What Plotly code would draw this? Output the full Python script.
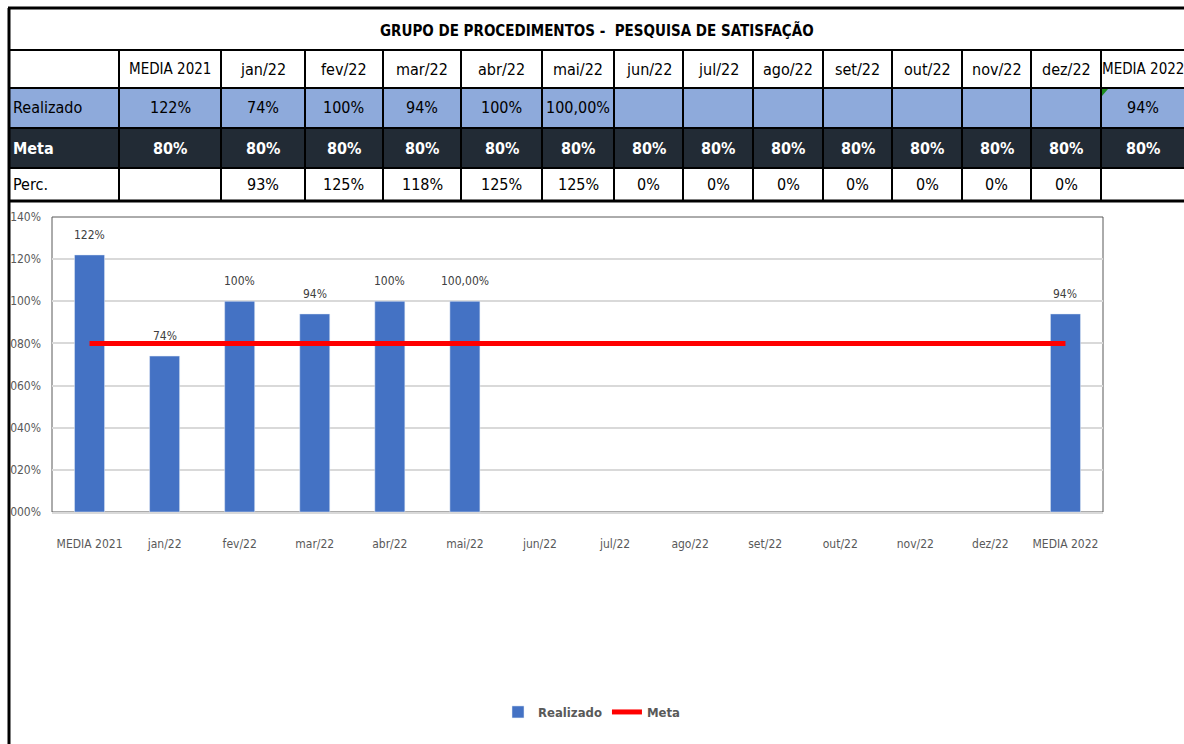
import plotly.graph_objects as go

W, H = 1184, 744
def px(x): return x / W
def py(y): return 1 - y / H

title = "GRUPO DE PROCEDIMENTOS -  PESQUISA DE SATISFAÇÃO"
categories = ["MEDIA 2021", "jan/22", "fev/22", "mar/22", "abr/22", "mai/22", "jun/22",
              "jul/22", "ago/22", "set/22", "out/22", "nov/22", "dez/22", "MEDIA 2022"]
realizado = [1.22, 0.74, 1.00, 0.94, 1.00, 1.00, None, None, None, None, None, None, None, 0.94]
realizado_labels = ["122%", "74%", "100%", "94%", "100%", "100,00%", "", "", "", "", "", "", "", "94%"]
meta = [0.80] * 14
meta_labels = ["80%"] * 14
perc_labels = ["", "93%", "125%", "118%", "125%", "125%", "0%", "0%", "0%", "0%", "0%", "0%", "0%", ""]
row_names = ["Realizado", "Meta", "Perc."]
y_tickvals = [0, 0.2, 0.4, 0.6, 0.8, 1.0, 1.2, 1.4]
y_ticktext = ["000%", "020%", "040%", "060%", "080%", "100%", "120%", "140%"]

FONT = "DejaVu Sans Condensed, Roboto, sans-serif"

fig = go.Figure()
fig.add_trace(go.Bar(x=categories, y=realizado, name="Realizado", marker_color="#4472c4",
                     width=0.4, hoverinfo="skip"))
fig.add_trace(go.Scatter(x=categories, y=meta, name="Meta", mode="lines",
                         line=dict(color="#ff0000", width=5), hoverinfo="skip"))

shapes = []
annotations = []

# table geometry
col_edges = [8, 119, 221, 305, 383, 461, 542, 614, 683, 753, 823, 892, 962, 1031, 1101, 1184]
row_edges = [8, 50, 88, 128, 168, 201]

def rect(x0, y0, x1, y1, fill, layer="below"):
    shapes.append(dict(type="rect", xref="paper", yref="paper", x0=px(x0), x1=px(x1),
                       y0=py(y1), y1=py(y0), fillcolor=fill, line=dict(width=0), layer=layer))

def line(x0, y0, x1, y1, color="black", width=2):
    shapes.append(dict(type="line", xref="paper", yref="paper", x0=px(x0), x1=px(x1),
                       y0=py(y0), y1=py(y1), line=dict(color=color, width=width), layer="above"))

rect(8, row_edges[2], 1184, row_edges[3], "#8eaadb")
rect(8, row_edges[3], 1184, row_edges[4], "#222b35")

for i, y in enumerate(row_edges):
    line(8, y, 1184, y, width=3 if i in (0, 5) else 2)
for x in col_edges[1:-1]:
    line(x, row_edges[1], x, row_edges[5], width=2)
line(9, 8, 9, 744, width=3)

# green error indicator triangle
shapes.append(dict(type="path", xref="paper", yref="paper",
                   path=f"M {px(1102)} {py(89)} L {px(1108)} {py(89)} L {px(1102)} {py(96)} Z",
                   fillcolor="#1e8c1e", line=dict(width=0), layer="above"))

def txt(x, y, s, size=16, color="black", bold=False, xanchor="center"):
    annotations.append(dict(xref="paper", yref="paper", x=px(x), y=py(y), text=s,
                            showarrow=False, xanchor=xanchor, yanchor="middle",
                            font=dict(family=FONT, size=size, color=color,
                                      weight="bold" if bold else "normal")))

txt(597, 31, title, size=15, bold=True)
row_mid = [(row_edges[i] + row_edges[i + 1]) / 2 for i in range(len(row_edges) - 1)]
for j, c in enumerate(categories):
    cx = (col_edges[j + 1] + col_edges[j + 2]) / 2
    txt(cx, row_mid[1], c, size=15 if c.startswith("MEDIA") else 16)
    txt(cx, row_mid[2], realizado_labels[j])
    txt(cx, row_mid[3], meta_labels[j], color="white", bold=True)
    txt(cx, row_mid[4], perc_labels[j])
txt(11, row_mid[2], row_names[0], xanchor="left")
txt(11, row_mid[3], row_names[1], color="white", bold=True, xanchor="left")
txt(11, row_mid[4], row_names[2], xanchor="left")

# data labels above bars
for c, v, lab in zip(categories, realizado, realizado_labels):
    if v is not None and lab:
        annotations.append(dict(x=c, y=v, xref="x", yref="y", text=lab, showarrow=False,
                                yshift=20, yanchor="middle",
                                font=dict(family=FONT, size=12, color="#404040")))

# plot border
shapes.append(dict(type="rect", xref="paper", yref="paper", x0=px(52), x1=px(1103),
                   y0=py(512), y1=py(217), line=dict(color="#595959", width=1),
                   fillcolor="rgba(0,0,0,0)", layer="below"))

fig.update_layout(
    width=W, height=H, margin=dict(l=0, r=0, t=0, b=0, pad=0, autoexpand=False),
    paper_bgcolor="white", plot_bgcolor="white",
    font=dict(family=FONT, color="#595959"),
    shapes=shapes, annotations=annotations,
    bargap=0.6, showlegend=True,
    legend=dict(orientation="h", x=0.5, xanchor="center", y=py(712), yanchor="middle",
                font=dict(family=FONT, size=13, color="#595959", weight="bold"),
                bgcolor="rgba(0,0,0,0)", itemwidth=30),
    xaxis=dict(domain=[px(52), px(1103)], range=[-0.5, 13.5], type="category",
               automargin=False,
               showgrid=False, showline=True, linecolor="#d9d9d9", linewidth=2,
               ticks="", tickfont=dict(family=FONT, size=12, color="#595959"),
               ticklabelstandoff=20, fixedrange=True),
    yaxis=dict(domain=[py(512), py(217)], range=[0, 1.4], tickvals=y_tickvals,
               automargin=False,
               ticktext=y_ticktext, showgrid=True, gridcolor="#d9d9d9", gridwidth=1.5,
               zeroline=False, showline=False, ticks="",
               tickfont=dict(family=FONT, size=12, color="#595959"),
               ticklabelstandoff=10, fixedrange=True),
)

fig.write_html("out.html", config={"displayModeBar": False},
               post_script="document.body.style.margin='0';document.body.style.overflow='hidden';")
